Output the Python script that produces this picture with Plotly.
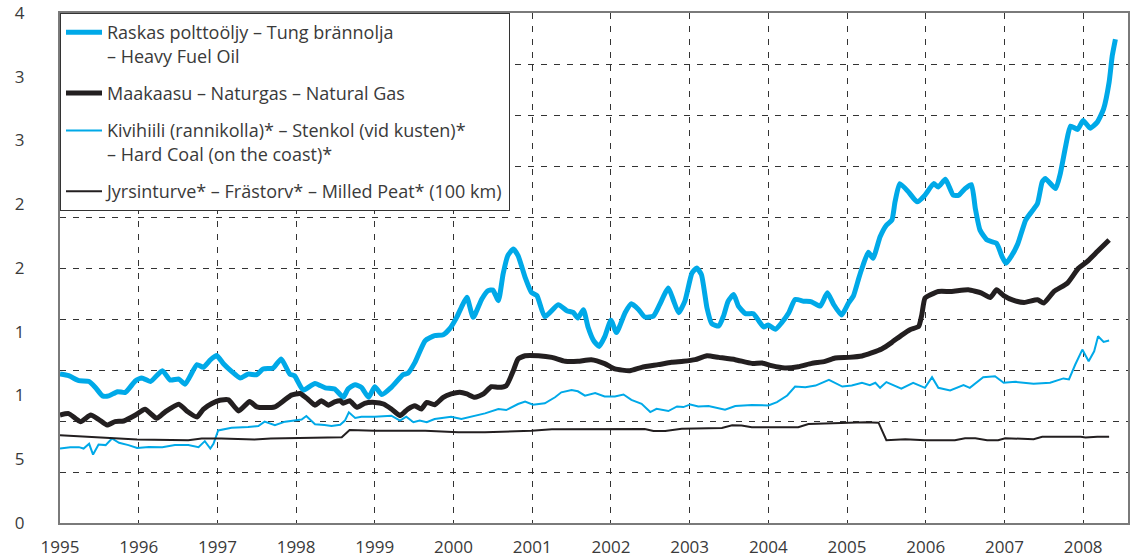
import plotly.graph_objects as go

# ---- Data (decimal years) ----
hfo_year = [1995.00,1995.11,1995.24,1995.37,1995.45,1995.54,1995.62,1995.73,1995.83,1995.96,
            1996.04,1996.15,1996.30,1996.40,1996.51,1996.59,1996.74,1996.82,1996.91,1996.99,
            1997.08,1997.18,1997.29,1997.39,1997.50,1997.58,1997.71,1997.81,1997.92,1997.98,
            1998.09,1998.24,1998.37,1998.49,1998.60,1998.66,1998.75,1998.83,1998.92,1999.00,
            1999.09,1999.21,1999.36,1999.42,1999.51,1999.64,1999.76,1999.87,1999.95,2000.04,
            2000.10,2000.17,2000.25,2000.36,2000.44,2000.50,2000.57,2000.63,2000.69,2000.76,
            2000.82,2000.91,2000.99,2001.06,2001.16,2001.33,2001.44,2001.52,2001.58,2001.65,
            2001.71,2001.78,2001.85,2001.92,2002.00,2002.07,2002.18,2002.26,2002.35,2002.43,
            2002.54,2002.62,2002.73,2002.79,2002.86,2002.94,2003.03,2003.09,2003.15,2003.22,
            2003.28,2003.37,2003.43,2003.49,2003.56,2003.62,2003.71,2003.81,2003.88,2003.94,
            2004.00,2004.09,2004.17,2004.26,2004.34,2004.45,2004.55,2004.66,2004.75,2004.83,
            2004.93,2005.02,2005.08,2005.15,2005.19,2005.27,2005.33,2005.42,2005.50,2005.57,
            2005.61,2005.67,2005.78,2005.89,2005.99,2006.10,2006.16,2006.25,2006.35,2006.42,
            2006.50,2006.58,2006.63,2006.69,2006.78,2006.90,2006.97,2007.02,2007.09,2007.17,
            2007.27,2007.35,2007.42,2007.48,2007.52,2007.65,2007.71,2007.78,2007.84,2007.93,
            2008.00,2008.09,2008.18,2008.26,2008.33,2008.37,2008.41]
hfo_val = [1.168,1.155,1.116,1.110,1.063,0.997,0.997,1.030,1.024,1.116,
           1.137,1.110,1.195,1.121,1.129,1.089,1.242,1.221,1.279,1.313,
           1.247,1.189,1.137,1.168,1.163,1.208,1.216,1.287,1.168,1.155,
           1.042,1.095,1.060,1.051,0.986,1.051,1.085,1.064,0.986,1.069,
           1.007,1.064,1.163,1.174,1.260,1.430,1.469,1.477,1.522,1.613,
           1.692,1.770,1.613,1.757,1.822,1.827,1.744,1.953,2.097,2.149,
           2.097,1.927,1.809,1.783,1.618,1.712,1.665,1.652,1.608,1.673,
           1.535,1.430,1.385,1.460,1.590,1.494,1.649,1.719,1.675,1.616,
           1.623,1.714,1.844,1.753,1.649,1.740,1.961,2.000,1.948,1.688,
           1.564,1.545,1.623,1.740,1.792,1.701,1.642,1.642,1.584,1.538,
           1.553,1.519,1.571,1.649,1.753,1.740,1.735,1.701,1.805,1.714,
           1.631,1.727,1.779,1.922,1.998,2.123,2.076,2.245,2.336,2.376,
           2.519,2.662,2.597,2.519,2.571,2.662,2.636,2.696,2.571,2.571,
           2.623,2.654,2.467,2.297,2.219,2.193,2.089,2.037,2.095,2.190,
           2.376,2.445,2.506,2.675,2.702,2.623,2.741,2.962,3.113,3.087,
           3.157,3.097,3.144,3.248,3.457,3.665,3.795]

gas_year = [1995.00,1995.11,1995.26,1995.39,1995.49,1995.60,1995.70,1995.81,1995.96,1996.08,
            1996.23,1996.34,1996.51,1996.61,1996.74,1996.82,1996.93,1997.03,1997.14,1997.27,
            1997.41,1997.50,1997.60,1997.73,1997.84,1997.94,1998.05,1998.15,1998.24,1998.32,
            1998.41,1998.49,1998.56,1998.60,1998.68,1998.77,1998.87,1999.00,1999.11,1999.21,
            1999.32,1999.42,1999.51,1999.59,1999.66,1999.76,1999.87,1999.97,2000.08,2000.17,
            2000.27,2000.38,2000.48,2000.57,2000.67,2000.76,2000.82,2000.91,2001.08,2001.25,
            2001.42,2001.58,2001.75,2001.92,2002.05,2002.24,2002.39,2002.60,2002.77,2002.92,
            2003.07,2003.22,2003.37,2003.58,2003.79,2003.92,2004.04,2004.21,2004.38,2004.55,
            2004.72,2004.85,2005.02,2005.19,2005.31,2005.44,2005.57,2005.69,2005.80,2005.91,
            2005.95,2005.99,2006.06,2006.16,2006.33,2006.54,2006.71,2006.82,2006.90,2006.99,
            2007.11,2007.25,2007.42,2007.50,2007.63,2007.80,2007.94,2008.05,2008.18,2008.33]
gas_val = [0.847,0.858,0.795,0.847,0.813,0.768,0.795,0.800,0.847,0.892,
           0.821,0.874,0.932,0.879,0.832,0.892,0.937,0.963,0.966,0.879,
           0.953,0.911,0.905,0.911,0.958,1.003,1.016,0.971,0.924,0.958,
           0.924,0.950,0.959,0.939,0.959,0.907,0.939,0.946,0.933,0.894,
           0.842,0.894,0.920,0.894,0.946,0.928,0.986,1.012,1.025,1.012,
           0.986,1.012,1.069,1.064,1.077,1.195,1.286,1.312,1.312,1.299,
           1.268,1.268,1.281,1.250,1.208,1.195,1.221,1.242,1.260,1.268,
           1.281,1.312,1.299,1.281,1.252,1.255,1.234,1.216,1.226,1.252,
           1.268,1.294,1.299,1.310,1.334,1.365,1.417,1.472,1.516,1.542,
           1.633,1.764,1.790,1.816,1.816,1.829,1.803,1.769,1.829,1.784,
           1.748,1.730,1.751,1.725,1.816,1.881,1.998,2.050,2.129,2.220]

coal_year = [1995.00,1995.13,1995.24,1995.30,1995.37,1995.42,1995.49,1995.58,1995.66,1995.75,
             1995.87,1995.98,1996.13,1996.30,1996.46,1996.63,1996.76,1996.84,1996.91,1996.95,
             1997.01,1997.18,1997.39,1997.52,1997.60,1997.73,1997.86,1997.98,1998.07,1998.13,
             1998.24,1998.36,1998.45,1998.56,1998.62,1998.67,1998.75,1998.83,1999.00,1999.21,
             1999.32,1999.40,1999.49,1999.57,1999.66,1999.76,1999.97,2000.10,2000.27,2000.40,
             2000.57,2000.67,2000.82,2000.91,2001.01,2001.16,2001.29,2001.37,2001.50,2001.58,
             2001.67,2001.80,2001.92,2002.05,2002.16,2002.26,2002.39,2002.50,2002.58,2002.73,
             2002.84,2002.92,2003.01,2003.11,2003.24,2003.45,2003.58,2003.79,2004.00,2004.11,
             2004.24,2004.34,2004.47,2004.60,2004.77,2004.94,2005.06,2005.19,2005.29,2005.36,
             2005.42,2005.50,2005.69,2005.84,2005.99,2006.08,2006.16,2006.31,2006.48,2006.56,
             2006.73,2006.88,2006.99,2007.14,2007.37,2007.58,2007.75,2007.82,2007.90,2007.99,
             2008.07,2008.14,2008.19,2008.26,2008.33]
coal_val = [0.584,0.595,0.595,0.584,0.621,0.537,0.616,0.611,0.663,0.629,
            0.611,0.589,0.597,0.595,0.611,0.611,0.595,0.642,0.584,0.621,
            0.726,0.747,0.753,0.761,0.795,0.768,0.795,0.805,0.811,0.839,
            0.774,0.768,0.760,0.771,0.803,0.868,0.824,0.834,0.834,0.842,
            0.803,0.834,0.790,0.803,0.790,0.816,0.834,0.816,0.842,0.860,
            0.894,0.886,0.933,0.952,0.928,0.939,0.986,1.025,1.043,1.033,
            0.999,1.020,0.992,0.992,1.008,0.966,0.935,0.870,0.896,0.878,
            0.914,0.909,0.930,0.914,0.917,0.888,0.917,0.925,0.922,0.948,
            1.000,1.070,1.065,1.078,1.122,1.070,1.078,1.100,1.081,1.100,
            1.060,1.105,1.053,1.100,1.060,1.144,1.060,1.040,1.081,1.060,
            1.144,1.151,1.100,1.107,1.092,1.100,1.134,1.126,1.243,1.360,
            1.269,1.347,1.465,1.420,1.431]

peat_year = [1995.00,1995.20,1995.37,1995.66,1995.98,1996.63,1996.80,1997.05,1997.47,1997.68,
             1998.47,1998.58,1998.68,1999.00,1999.64,2000.06,2000.40,2000.65,2000.99,2001.25,
             2002.43,2002.54,2002.69,2002.90,2003.41,2003.54,2003.66,2003.79,2004.38,2004.51,
             2004.98,2005.23,2005.40,2005.44,2005.50,2005.74,2005.99,2006.37,2006.50,2006.63,
             2006.78,2006.92,2007.01,2007.37,2007.48,2007.97,2008.03,2008.18,2008.33]
peat_val = [0.689,0.682,0.674,0.668,0.655,0.650,0.663,0.663,0.655,0.663,
            0.668,0.672,0.729,0.724,0.724,0.711,0.711,0.716,0.724,0.735,
            0.738,0.722,0.722,0.740,0.745,0.766,0.764,0.751,0.751,0.777,
            0.787,0.790,0.787,0.735,0.649,0.657,0.649,0.649,0.665,0.665,
            0.649,0.649,0.665,0.657,0.676,0.676,0.670,0.676,0.676]

names = [
    "Raskas polttoöljy – Tung brännolja<br>– Heavy Fuel Oil",
    "Maakaasu – Naturgas – Natural Gas",
    "Kivihiili (rannikolla)* – Stenkol (vid kusten)*<br>– Hard Coal (on the coast)*",
    "Jyrsinturve* – Frästorv* – Milled Peat* (100 km)",
]

year_ticks = list(range(1995, 2009))
y_tickvals = [0, 0.5, 1, 1.5, 2, 2.5, 3, 3.5, 4]
y_ticktext = ["0", "5", "1", "1", "2", "2", "3", "3", "4"]
grid_vals = [0.4, 0.8, 1.2, 1.6, 2.0, 2.4, 2.8, 3.2, 3.6]

BLUE = "#00a9e8"
BLACK = "#231f20"
FONT = "Open Sans, Liberation Sans, Arial, sans-serif"
TXT = "#3a3a3a"

fig = go.Figure()
series = [
    (hfo_year, hfo_val, BLUE, 5, "spline"),
    (gas_year, gas_val, BLACK, 5, "spline"),
    (coal_year, coal_val, BLUE, 2, "linear"),
    (peat_year, peat_val, BLACK, 2, "linear"),
]
for i, (xs, ys, col, w, shp) in enumerate(series):
    line = dict(color=col, width=w, shape=shp)
    if shp == "spline":
        line["smoothing"] = 0.5
    fig.add_trace(go.Scatter(x=xs, y=ys, mode="lines", name=names[i],
                             line=line, legendgroup=f"g{i}"))

fig.update_layout(
    width=1137, height=560,
    margin=dict(l=60, r=9, t=13, b=37, autoexpand=False),
    paper_bgcolor="white", plot_bgcolor="white",
    font=dict(family=FONT, size=16, color=TXT),
    showlegend=True,
    legend=dict(x=0, y=1, xanchor="left", yanchor="top",
                bgcolor="white", bordercolor="#333333", borderwidth=1,
                font=dict(family=FONT, size=18, color=TXT),
                valign="top", tracegroupgap=11, traceorder="grouped",
                itemwidth=36),
)
fig.update_xaxes(
    range=[1995, 2008.57], automargin=False,
    tickvals=year_ticks, ticktext=[str(y) for y in year_ticks],
    showgrid=True, gridcolor="#333333", gridwidth=1, griddash="6px,7px",
    showline=True, linecolor="#7a7a7a", linewidth=2, mirror=True,
    ticks="", ticklabelstandoff=8, zeroline=False,
    ticklabeloverflow="allow",
    tickfont=dict(family=FONT, size=17, color=TXT),
)
fig.update_yaxes(
    range=[0, 4], automargin=False,
    tickvals=y_tickvals, ticktext=y_ticktext,
    showgrid=False, zeroline=False,
    minor=dict(tickvals=grid_vals, showgrid=True, gridcolor="#333333",
               gridwidth=1, griddash="6px,7px", ticks=""),
    showline=True, linecolor="#7a7a7a", linewidth=2, mirror=True,
    ticks="", ticklabelstandoff=30, ticklabeloverflow="allow",
    tickfont=dict(family=FONT, size=17, color=TXT),
)

fig.write_html("out.html",
               config={"displayModeBar": False},
               post_script="document.body.style.margin='0px';"
                           "document.body.style.overflow='hidden';")
